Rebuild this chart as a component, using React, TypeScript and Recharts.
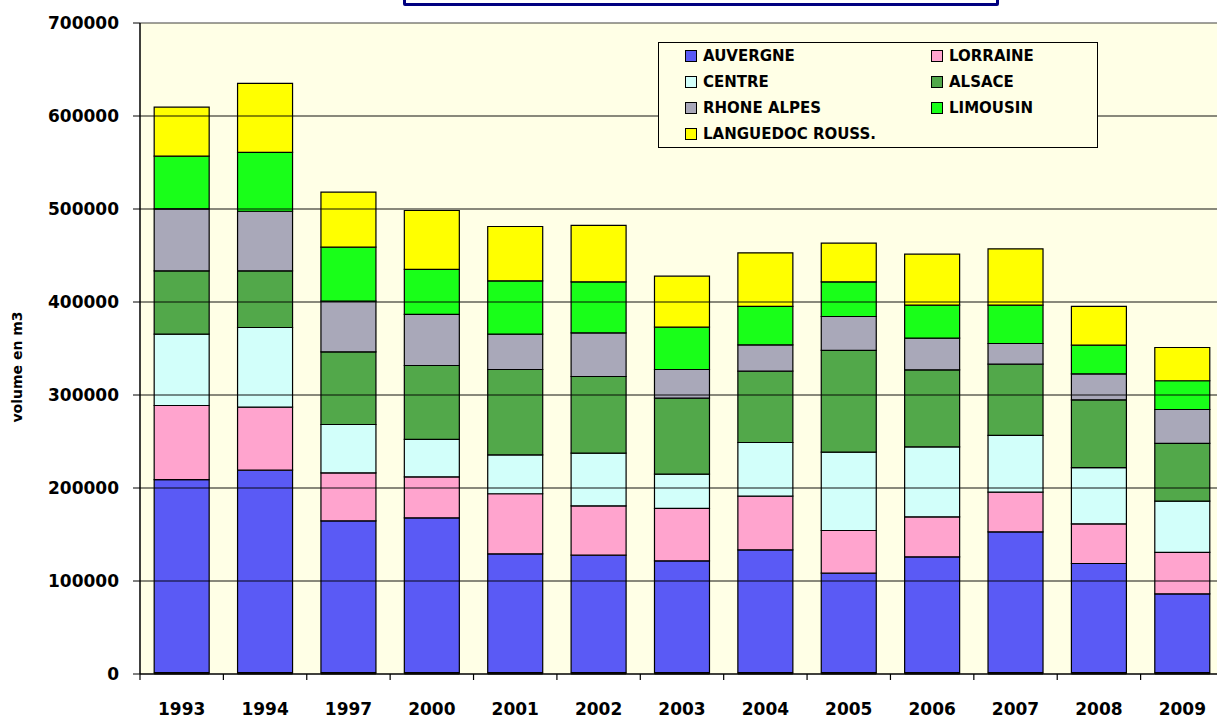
import React from 'react';
import { BarChart, Bar, XAxis, YAxis, CartesianGrid, Legend, ReferenceLine } from 'recharts';

const FONT = '"DejaVu Sans", Verdana, sans-serif';

const years = ['1993', '1994', '1997', '2000', '2001', '2002', '2003', '2004', '2005', '2006', '2007', '2008', '2009'];

// thin dark strip at the foot of every bar (not in the legend)
const autre = [1500, 1500, 1500, 1500, 1500, 1500, 1500, 1500, 1500, 1500, 1500, 1500, 1500];
const auvergne = [207600, 217700, 163200, 166400, 127700, 126300, 120200, 132000, 106900, 124500, 151400, 117300, 84700];
const lorraine = [79600, 67700, 51600, 44100, 64600, 53000, 56300, 57700, 45900, 43000, 42600, 42700, 44500];
const centre = [76700, 85700, 52000, 40200, 41900, 56700, 36900, 57700, 84200, 75300, 61000, 60500, 55100];
const alsace = [68100, 60900, 78100, 79500, 91700, 82400, 81700, 76700, 109400, 82800, 76600, 72800, 62100];
const rhoneAlpes = [66700, 64100, 54500, 54900, 38000, 47000, 30800, 28400, 36500, 34000, 22300, 28000, 36500];
const limousin = [56600, 63200, 58100, 48400, 57400, 54800, 45500, 41200, 37300, 35500, 41200, 30800, 30900];
const languedoc = [52700, 74200, 59100, 63400, 58400, 60600, 54900, 57700, 41600, 54800, 60600, 41600, 35800];

const yTicks = [0, 100000, 200000, 300000, 400000, 500000, 600000, 700000];

const series = [
  { key: 'auvergne', name: 'AUVERGNE', color: '#5a5af5' },
  { key: 'lorraine', name: 'LORRAINE', color: '#ffa4ce' },
  { key: 'centre', name: 'CENTRE', color: '#d2fffa' },
  { key: 'alsace', name: 'ALSACE', color: '#52a84a' },
  { key: 'rhoneAlpes', name: 'RHONE ALPES', color: '#a9a8b9' },
  { key: 'limousin', name: 'LIMOUSIN', color: '#19ff19' },
  { key: 'languedoc', name: 'LANGUEDOC ROUSS.', color: '#ffff00' },
];

const data = years.map((year, i) => ({
  year,
  autre: autre[i],
  auvergne: auvergne[i],
  lorraine: lorraine[i],
  centre: centre[i],
  alsace: alsace[i],
  rhoneAlpes: rhoneAlpes[i],
  limousin: limousin[i],
  languedoc: languedoc[i],
}));

function YearTick(props: any) {
  const { x, y, payload } = props;
  return (
    <g>
      <line x1={x - 41.7} x2={x - 41.7} y1={y} y2={y + 6} stroke="#000" strokeWidth={1.2} />
      <text x={x} y={y + 41} textAnchor="middle" fontFamily={FONT} fontWeight="bold" fontSize={17} fill="#000">
        {payload.value}
      </text>
    </g>
  );
}

function LegendBox() {
  return (
    <div
      style={{
        border: '1px solid #000',
        background: '#ffffe6',
        width: '100%',
        height: '100%',
        boxSizing: 'border-box',
        display: 'grid',
        gridTemplateColumns: '246px 1fr',
        gridAutoRows: '26px',
        paddingLeft: 26,
        fontFamily: FONT,
      }}
    >
      {series.map((s) => (
        <div key={s.key} style={{ display: 'flex', alignItems: 'center', gap: 6, fontWeight: 'bold', fontSize: 15, color: '#000' }}>
          <span style={{ display: 'inline-block', width: 10, height: 10, background: s.color, border: '1px solid #000' }} />
          {s.name}
        </div>
      ))}
    </div>
  );
}

export default function App() {
  return (
    <div style={{ position: 'fixed', left: 0, top: 0, width: 1217, height: 720, overflow: 'hidden', background: '#fff', fontFamily: FONT }}>
      <div
        style={{
          position: 'absolute',
          left: 403,
          top: -20,
          width: 590,
          height: 20,
          border: '3px solid #000080',
          borderRadius: 2,
          background: '#fff',
        }}
      />
      <BarChart width={1230} height={720} data={data} margin={{ top: 23, right: 6, bottom: 0, left: 0 }} barCategoryGap="17%">
        <CartesianGrid horizontal={false} vertical={false} fill="#ffffe6" />
        <XAxis
          dataKey="year"
          height={46}
          interval={0}
          tickSize={0}
          tickMargin={0}
          tickLine={false}
          tick={<YearTick />}
          axisLine={{ stroke: '#000', strokeWidth: 1.5 }}
        />
        <YAxis
          width={140}
          domain={[0, 700000]}
          ticks={yTicks}
          interval={0}
          tickSize={7}
          tickMargin={14}
          tick={{ fill: '#000', fontSize: 17, fontWeight: 'bold', fontFamily: FONT }}
          tickLine={{ stroke: '#000' }}
          axisLine={{ stroke: '#000', strokeWidth: 1.5 }}
        />
        <Legend
          layout="horizontal"
          verticalAlign="middle"
          align="center"
          content={<LegendBox />}
          wrapperStyle={{ position: 'absolute', left: 658, top: 42, width: 440, height: 106, margin: 0 }}
        />
        <Bar dataKey="autre" stackId="a" fill="#5c4326" stroke="#000" strokeWidth={0.8} legendType="none" isAnimationActive={false} />
        {series.map((s) => (
          <Bar
            key={s.key}
            dataKey={s.key}
            name={s.name}
            stackId="a"
            fill={s.color}
            stroke="#000"
            strokeWidth={1.2}
            isAnimationActive={false}
          />
        ))}
        {yTicks.slice(1).map((t) => (
          <ReferenceLine key={t} y={t} stroke="#000" strokeOpacity={t === 700000 ? 0.5 : 0.62} strokeWidth={1.3} />
        ))}
      </BarChart>
      <svg style={{ position: 'absolute', left: 0, top: 0 }} width={40} height={720}>
        <text
          transform="translate(18,367) rotate(-90)"
          textAnchor="middle"
          dominantBaseline="middle"
          fontFamily={FONT}
          fontWeight="bold"
          fontSize={14}
          fill="#000"
        >
          volume en m3
        </text>
      </svg>
    </div>
  );
}
